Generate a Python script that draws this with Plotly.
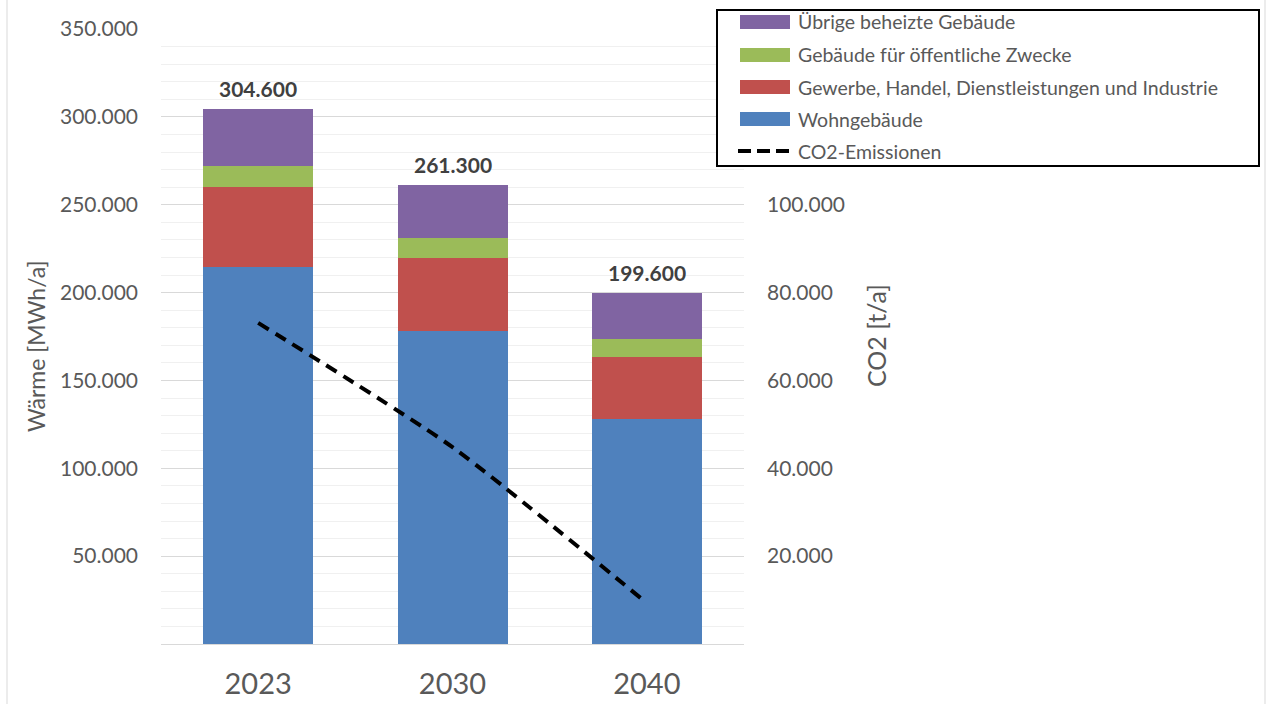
import plotly.graph_objects as go

# --- data -------------------------------------------------------------
years = ["2023", "2030", "2040"]
wohngebaeude = [214300, 178300, 127800]
gewerbe = [45500, 41600, 35800]
oeffentlich = [12000, 11300, 9700]
uebrige = [32800, 30100, 26300]
co2 = [73100, 44800, 9300]

series_names = [
    "Wohngebäude",
    "Gewerbe, Handel, Dienstleistungen und Industrie",
    "Gebäude für öffentliche Zwecke",
    "Übrige beheizte Gebäude",
]
series_values = [wohngebaeude, gewerbe, oeffentlich, uebrige]
series_colors = ["#4F81BD", "#C0504D", "#9BBB59", "#8064A2"]
line_name = "CO2-Emissionen"

left_ticks = [50000, 100000, 150000, 200000, 250000, 300000, 350000]
right_ticks = [20000, 40000, 60000, 80000, 100000]

totals = [sum(v[i] for v in series_values) for i in range(len(years))]

# --- geometry ---------------------------------------------------------
W, H = 1269, 704
L, R, T, B = 161, 744, 29, 644
PW, PH = R - L, B - T


def px(x):
    return (x - L) / PW


def py(y):
    return (B - y) / PH


FONT = "Lato"
GREY = "#595959"

fig = go.Figure()

for name, vals, col in zip(series_names, series_values, series_colors):
    fig.add_trace(go.Bar(
        x=years, y=vals, name=name, marker_color=col,
        marker_line_width=0, showlegend=False, yaxis="y",
    ))

fig.add_trace(go.Scatter(
    x=years, y=co2, name=line_name, mode="lines", yaxis="y2",
    line=dict(color="black", width=4, dash="12px,8px", shape="spline", smoothing=0.6),
    showlegend=False,
))

# totals above each stack (category index as x position)
for i, tot in enumerate(totals):
    fig.add_annotation(
        x=i, y=tot, xref="x", yref="y", text=f"{tot:,}".replace(",", "."),
        showarrow=False, yanchor="bottom", yshift=6,
        font=dict(family=FONT, size=21, color="#404040", weight="bold"),
    )

# axis titles
fig.add_annotation(x=px(36), y=py(347), xref="paper", yref="paper", text="Wärme [MWh/a]",
                   textangle=-90, showarrow=False, xanchor="center", yanchor="middle",
                   font=dict(family=FONT, size=23, color=GREY))
fig.add_annotation(x=px(876), y=py(336), xref="paper", yref="paper", text="CO2 [t/a]",
                   textangle=-90, showarrow=False, xanchor="center", yanchor="middle",
                   font=dict(family=FONT, size=25, color=GREY))

shapes = []
# chart area frame
shapes.append(dict(type="rect", xref="paper", yref="paper",
                   x0=px(7), x1=px(1265), y0=py(720), y1=py(-20),
                   line=dict(color="#D9D9D9", width=1), fillcolor="rgba(0,0,0,0)", layer="below"))

# legend box
lx0, lx1, ly0, ly1 = 717, 1259, 10, 166
shapes.append(dict(type="rect", xref="paper", yref="paper",
                   x0=px(lx0), x1=px(lx1), y0=py(ly1), y1=py(ly0),
                   line=dict(color="black", width=2), fillcolor="white", layer="above"))

legend_rows = list(reversed(list(zip(series_names, series_colors))))
row_y = [22, 55, 87, 119, 151]
for (name, col), yy in zip(legend_rows, row_y):
    shapes.append(dict(type="rect", xref="paper", yref="paper",
                       x0=px(740), x1=px(790), y0=py(yy + 7), y1=py(yy - 7),
                       line=dict(width=0), fillcolor=col, layer="above"))
    fig.add_annotation(x=px(796), y=py(yy), xref="paper", yref="paper", text=name,
                       showarrow=False, xanchor="left", yanchor="middle",
                       font=dict(family=FONT, size=19.5, color=GREY))
yy = row_y[-1]
shapes.append(dict(type="line", xref="paper", yref="paper",
                   x0=px(738), x1=px(792), y0=py(yy), y1=py(yy),
                   line=dict(color="black", width=4, dash="13px,6px"), layer="above"))
fig.add_annotation(x=px(796), y=py(yy), xref="paper", yref="paper", text=line_name,
                   showarrow=False, xanchor="left", yanchor="middle",
                   font=dict(family=FONT, size=19.5, color=GREY))

fig.update_layout(
    width=W, height=H,
    margin=dict(l=L, r=W - R, t=T, b=H - B, pad=0, autoexpand=False),
    paper_bgcolor="white", plot_bgcolor="white",
    barmode="stack", bargap=0.434,
    separators=",.",
    shapes=shapes,
    showlegend=False,
    xaxis=dict(
        type="category", range=[-0.5, 2.5], showline=False, showgrid=False, ticks="",
        automargin=False,
        tickfont=dict(family=FONT, size=29, color=GREY), ticklabelstandoff=20,
    ),
    yaxis=dict(
        range=[0, 350000], tickvals=left_ticks, tickformat=",d", automargin=False,
        showgrid=True, gridcolor="#D9D9D9", gridwidth=1,
        zeroline=True, zerolinecolor="#D9D9D9", zerolinewidth=1,
        minor=dict(dtick=10000, showgrid=True, gridcolor="#F0F0F0", gridwidth=1),
        showline=False, ticks="",
        tickfont=dict(family=FONT, size=21, color=GREY), ticklabelstandoff=22,
    ),
    yaxis2=dict(
        range=[0, 140000], tickvals=right_ticks, tickformat=",d", automargin=False,
        overlaying="y", side="right", showgrid=False, zeroline=False,
        showline=False, ticks="",
        tickfont=dict(family=FONT, size=21, color=GREY), ticklabelstandoff=22,
    ),
)

fig.write_html("out.html")
